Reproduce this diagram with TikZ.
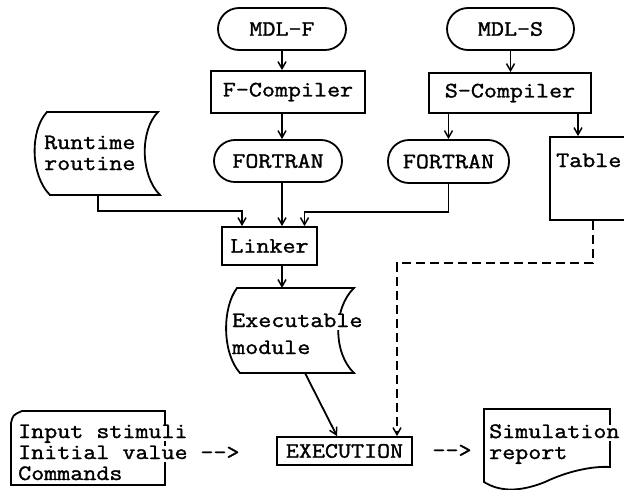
\documentclass[tikz,border=0pt]{standalone}
\usepackage{fontspec}
\newfontfamily\dgmfont[FakeStretch=1.15,FakeBold=1.4]{Latin Modern Mono}
\usetikzlibrary{arrows.meta}

\begin{document}
\begin{tikzpicture}[x=1pt,y=-1pt,
  every node/.style={font=\dgmfont\fontsize{22}{21}\selectfont, inner sep=0pt},
  ln/.style={line width=1.8pt},
  arr/.style={ln, -{Straight Barb[length=7pt,width=8pt,line width=1.5pt]}},
  dsh/.style={arr, dash pattern=on 9pt off 5pt},
  stad/.style={draw, ln, rounded corners=21pt, minimum height=42pt},
  boxn/.style={draw, ln, rectangle},
  txt/.style={anchor=base west, text height=13pt, text depth=3pt},
  txtw/.style={txt, fill=white}
]
\clip (0,0) rectangle (624,490);
\fill[white] (0,0) rectangle (624,490);

% --- upper chain: model descriptions and compilers
\node[stad, minimum width=128pt] (mdlf) at (282,29) {MDL-F};
\node[boxn, minimum width=154pt, minimum height=42pt] (fcomp) at (288,92) {F-Compiler};
\node[stad, minimum width=128pt] (fortf) at (278,161) {FORTRAN};
\node[stad, minimum width=127pt] (mdls) at (510.5,29) {MDL-S};
\node[boxn, minimum width=162pt, minimum height=40pt] (scomp) at (510,93) {S-Compiler};
\node[stad, minimum width=121pt, minimum height=43pt] (forts) at (448.5,161.5) {FORTRAN};
\node[boxn, minimum width=110pt, minimum height=83pt] (tbl) at (605,178.5) {};
\node[txt] (tbltxt) at (556,167) {Table};

% --- runtime routine (stored data symbol)
\draw[ln] (47,112) -- (158,112) .. controls (140,130) and (140,175) .. (160,195)
  -- (50,195) .. controls (30,175) and (30,130) .. cycle;
\node[txt] (rt1) at (44,149) {Runtime};
\node[txt] (rt2) at (44,170) {routine};
\coordinate (rtb) at (98,195);

% --- linker
\node[boxn, minimum width=95pt, minimum height=38pt] (link) at (269.5,246) {Linker};

% --- executable module (stored data symbol)
\draw[ln] (237,288) -- (354,288) .. controls (333,308) and (333,353) .. (354,373)
  -- (240,373) .. controls (222,353) and (222,308) .. cycle;
\node[txtw] (em1) at (232,327) {Executable};
\node[txt] (em2) at (232,354) {module};
\coordinate (emtop) at (282,288);
\coordinate (embot) at (305,373);

% --- input card
\draw[ln] (11,423) .. controls (13,415) .. (22,411) -- (165,411) -- (165,485)
  -- (11,485) -- cycle;
\node[txtw] (in1) at (18,438) {Input stimuli};
\node[txtw] (in2) at (18,459) {Initial value};
\node[txt] (in3) at (18,480) {Commands};

% --- execution
\node[boxn, minimum width=135pt, minimum height=28pt] (exe) at (344.5,451) {EXECUTION};

% --- simulation report (document symbol)
\draw[ln] (484,409) -- (610,409) -- (610,467)
  .. controls (595,466) and (570,470) .. (545,482)
  .. controls (520,492) and (500,492) .. (484,482) -- cycle;
\node[txtw] (sim1) at (489,438) {Simulation};
\node[txt] (sim2) at (489,459) {report};

% --- typed arrows between input, execution and report
\node[anchor=base] (ar1) at (220,459) {-{}-{}>};
\node[anchor=base] (ar2) at (452,457) {-{}-{}>};

% --- connectors
\draw[arr] (mdlf.south) -- (mdlf.south |- fcomp.north);
\draw[arr] (mdlf.south |- fcomp.south) -- (mdlf.south |- fortf.north);
\draw[arr] (mdlf.south |- fortf.south) -- (mdlf.south |- link.north);
\draw[arr] (rtb) -- ++(0,16) -| ([xshift=-27.5pt]link.north);
\draw[arr] (forts.south) -- ++(0,28) -| ([xshift=35pt]link.north);
\draw[arr] (mdls.south) -- (mdls.south |- scomp.north);
\draw[arr] (forts.north |- scomp.south) -- (forts.north);
\draw[arr] ([xshift=68pt]scomp.south) -- ([xshift=68pt]scomp.south |- tbl.north);
\draw[arr] (mdlf.south |- link.south) -- (emtop);
\draw[arr] (embot) -- ([xshift=-7.5pt]exe.north);
\draw[dsh] ([xshift=44pt]tbl.south west) -- ++(0,42) -| ([xshift=52.5pt]exe.north);
\end{tikzpicture}
\end{document}
